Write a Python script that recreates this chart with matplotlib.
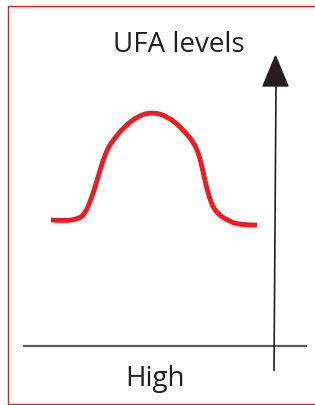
import matplotlib
matplotlib.use("Agg")
import matplotlib.pyplot as plt
from matplotlib.patches import Rectangle, PathPatch
from matplotlib.path import Path

# curve (pixel space, y downward)
curve_x = [51, 65, 78, 85, 92, 98, 105, 112, 125, 138, 152, 167, 183, 197, 203, 208, 215, 230, 243, 257]
curve_y = [221, 222, 220, 215, 198, 178, 155, 142, 127, 117, 113, 117, 130, 148, 172, 195, 213, 223, 226, 226]

title_text = "UFA levels"
label_text = "High"

W, H = 315, 406
fig = plt.figure(figsize=(W / 100, H / 100), dpi=100)
ax = fig.add_axes([0, 0, 1, 1])
ax.set_xlim(0, W)
ax.set_ylim(H, 0)
ax.axis("off")

# red frame (right edge runs off the picture)
ax.add_patch(Rectangle((8, 7), 320, 398, fill=False, edgecolor="#ed1c24", lw=1.0))

# bell curve, corners rounded with quadratic segments through midpoints
pts = list(zip(curve_x, curve_y))
verts = [pts[0]]
codes = [Path.MOVETO]
for i in range(1, len(pts) - 1):
    nxt = pts[i + 1] if i + 1 == len(pts) - 1 else ((pts[i][0] + pts[i + 1][0]) / 2, (pts[i][1] + pts[i + 1][1]) / 2)
    verts += [pts[i], nxt]
    codes += [Path.CURVE3, Path.CURVE3]
ax.add_patch(PathPatch(Path(verts, codes), fill=False, edgecolor="#ed1c24", lw=3.5, capstyle="butt"))

# baseline
ax.plot([24, 306], [347, 347], color="#58595b", lw=1.6)

# vertical arrow
ax.plot([274, 276], [371, 86], color="#231f20", lw=1.2)
ax.add_patch(plt.Polygon([[263, 87], [288, 87], [275.5, 57]], closed=True, color="#231f20"))

ax.text(179, 45, title_text, ha="center", va="center", fontsize=20,
        family="Open Sans", color="#231f20")
ax.text(155, 379, label_text, ha="center", va="center", fontsize=20,
        family="Open Sans", color="#231f20")

fig.savefig("out.png", dpi=100)
